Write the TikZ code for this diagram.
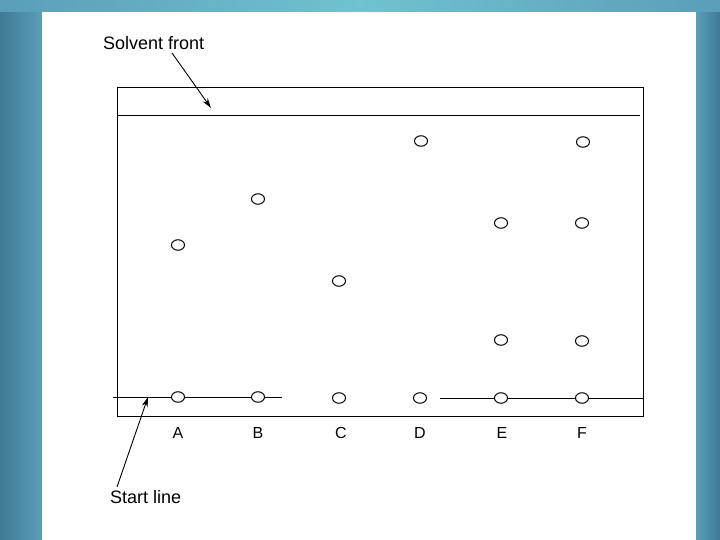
\documentclass[tikz,border=0pt]{standalone}
\usepackage{fontspec}
\setmainfont{Liberation Sans}
\usetikzlibrary{shapes.geometric,arrows.meta}
\definecolor{bgdark}{RGB}{62,122,150}
\definecolor{bgmid}{RGB}{90,158,186}
\definecolor{bglight}{RGB}{112,194,208}
\begin{document}
\begin{tikzpicture}[x=1pt,y=-1pt,
  spot/.style={draw,ellipse,line width=1pt,minimum width=13pt,minimum height=10.5pt,inner sep=0pt},
  lbl/.style={font=\fontsize{16}{18}\selectfont,inner sep=0pt},
  note/.style={font=\fontsize{18}{20}\selectfont,inner sep=0pt},
  ln/.style={line width=1pt},
  pointer/.style={line width=0.9pt,-{Stealth[length=10pt,width=6pt]}}]
\useasboundingbox (0,0) rectangle (720,540);
% background
\shade[left color=bgdark,right color=bgmid] (0,0) rectangle (42,540);
\shade[left color=bgmid,right color=bgdark] (696,0) rectangle (720,540);
\shade[left color=bgmid,right color=bgmid,middle color=bglight] (0,0) rectangle (720,12);
\fill[white] (42,12) rectangle (696,540);
% plate
\draw[ln] (117,88) rectangle (643,416);
\coordinate (sfL) at (117,116);
\coordinate (sfR) at (640,116);
\draw[ln] (sfL) -- (sfR);
% spots on start line
\node[spot] (A0) at (178,397) {};
\node[spot] (B0) at (258,397) {};
\node[spot] (C0) at (339,398) {};
\node[spot] (D0) at (420,398) {};
\node[spot] (E0) at (501,398) {};
\node[spot] (F0) at (582,398) {};
% developed spots
\node[spot] (A1) at (178,245) {};
\node[spot] (B1) at (258,199) {};
\node[spot] (C1) at (339,281) {};
\node[spot] (D1) at (421,141) {};
\node[spot] (E1) at (501,223) {};
\node[spot] (E2) at (501,340) {};
\node[spot] (F1) at (583,142) {};
\node[spot] (F2) at (582,223) {};
\node[spot] (F3) at (582,341) {};
% start line
\coordinate (slL) at (113,397);
\coordinate (slM1) at (282,397);
\coordinate (slM2) at (440,398);
\coordinate (slR) at (643,398);
\draw[ln] (slL) -- (A0.west) (A0.east) -- (B0.west) (B0.east) -- (slM1);
\draw[ln] (slM2) -- (E0.west) (E0.east) -- (F0.west) (F0.east) -- (slR);
% lane labels
\node[lbl] (LA) at (178,433) {A};
\node[lbl] (LB) at (258,433) {B};
\node[lbl] (LC) at (341,433) {C};
\node[lbl] (LD) at (420,433) {D};
\node[lbl] (LE) at (502,433) {E};
\node[lbl] (LF) at (582,433) {F};
% annotations
\node[note,anchor=west] (sf) at (103,43) {Solvent front};
\coordinate (sfTip) at (211,108);
\draw[pointer] (172,53) -- (sfTip);
\node[note,anchor=west] (st) at (110,497) {Start line};
\coordinate (stTip) at (148,397);
\draw[pointer] (117,487) -- (stTip);
\end{tikzpicture}
\end{document}
